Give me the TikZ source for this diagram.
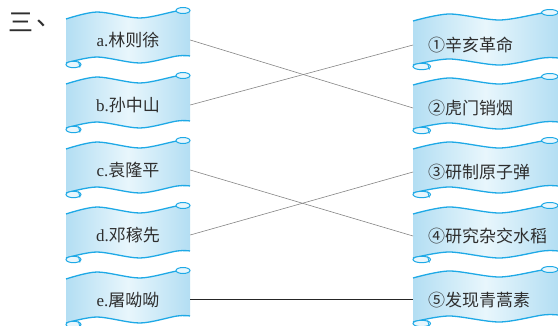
\documentclass[tikz,border=0pt]{standalone}
\usepackage{fontspec}
\setmainfont{Liberation Serif}
\newfontfamily\cjk{Noto Sans CJK SC}
\definecolor{scrL}{HTML}{B3DEF3}
\definecolor{scrM}{HTML}{E8F6FC}
\definecolor{scrE}{HTML}{1EA9E6}
\definecolor{txt}{HTML}{2E2E2E}
\definecolor{lnk}{HTML}{858585}
\newcommand\drawscroll[3]{%
\begin{scope}[shift={(#1,#2)},xscale=#3/124]
 \path[left color=scrL,right color=scrL,middle color=scrM]
   plot[smooth] coordinates {(0,0) (31,-7) (74,-1) (111,-8) (124,-8)}
   -- plot[smooth] coordinates {(124,37) (111,37) (74,44) (31,38) (0,44)} -- cycle;
 \draw[scrE,line width=1.3pt] plot[smooth] coordinates {(0,0) (31,-7) (74,-1) (111,-8) (124,-8)};
 \draw[scrE,line width=1.3pt] plot[smooth] coordinates {(0,44) (31,38) (74,44) (111,37) (124,37)};
 \draw[scrE,fill=scrM,line width=1pt] (117,-8.5) ellipse [x radius=7pt, y radius=3pt];
 \draw[scrE,fill=scrM,line width=1pt] (7.5,45.5) ellipse [x radius=7.5pt, y radius=3.2pt];
 \draw[scrE,line width=0.9pt] (12.5,42.5) -- (14,48.5);
\end{scope}}
\tikzset{
  lbl/.style={text=txt,font=\fontsize{17}{20}\selectfont,inner sep=0pt},
  lnode/.style={lbl,minimum width=124pt,minimum height=30pt},
  rnode/.style={lbl,anchor=west,inner xsep=15pt,minimum height=30pt},
  link/.style={lnk,line width=0.6pt},
  blink/.style={black!85,line width=1pt}
}
\begin{document}
\begin{tikzpicture}[x=1pt,y=-1pt]
\useasboundingbox (0,0) rectangle (558,326);
% scrolls
\foreach \t in {19,84,149,214,279} {\drawscroll{66}{\t}{124}}
\foreach \t in {21,85,149,214,278} {\drawscroll{413}{\t}{145}}
% heading
\node[text=txt,font=\fontsize{25}{28}\selectfont\cjk,inner sep=0pt] (san) at (21,22) {三};
\node[text=txt,font=\fontsize{25}{28}\selectfont\cjk,inner sep=0pt] (dun) at (49,23) {、};
% left labels
\node[lnode] (a) at (128,40) {a.{\cjk 林则徐}};
\node[lnode] (b) at (128,105) {b.{\cjk 孙中山}};
\node[lnode] (c) at (128,170) {c.{\cjk 袁隆平}};
\node[lnode] (d) at (128,235) {d.{\cjk 邓稼先}};
\node[lnode] (e) at (128,300) {e.{\cjk 屠呦呦}};
% right labels
\node[rnode] (r1) at (413,45) {\cjk ①辛亥革命};
\node[rnode] (r2) at (413,108) {\cjk ②虎门销烟};
\node[rnode] (r3) at (413,172) {\cjk ③研制原子弹};
\node[rnode] (r4) at (413,236) {\cjk ④研究杂交水稻};
\node[rnode] (r5) at (413,300) {\cjk ⑤发现青蒿素};
% connectors
\draw[link] (a.east) -- (r2.west);
\draw[link] (b.east) -- (r1.west);
\draw[link] (c.east) -- (r4.west);
\draw[link] (d.east) -- (r3.west);
\draw[blink] (e.east) -- (r5.west);
\end{tikzpicture}
\end{document}
